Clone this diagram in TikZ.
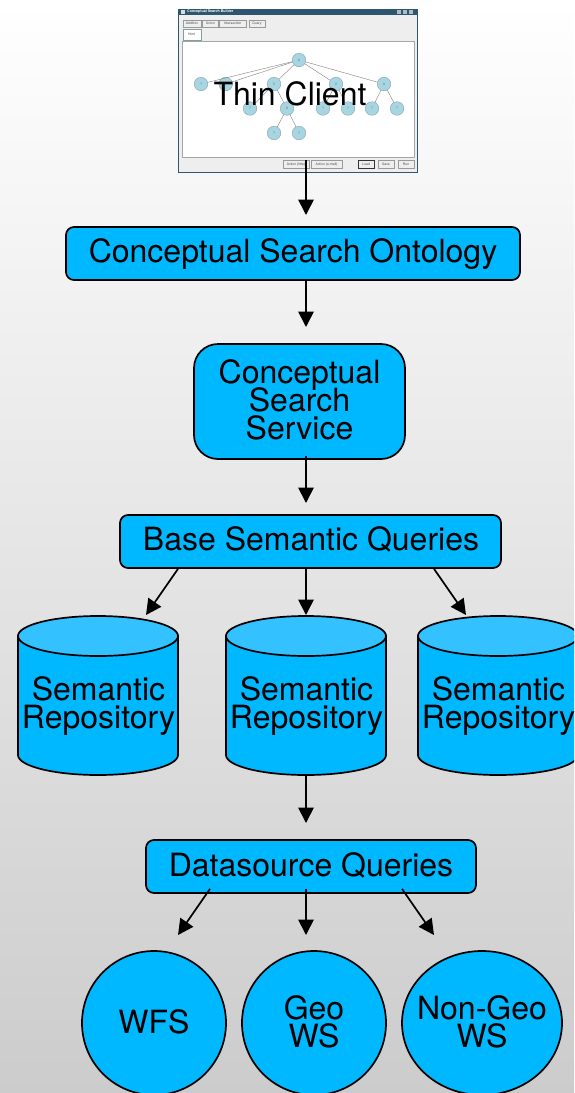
\documentclass[tikz,border=0pt]{standalone}
\usepackage{fontspec}
\setmainfont{TeX Gyre Heros}
\usetikzlibrary{arrows.meta,shapes.geometric,calc}
\definecolor{boxblue}{HTML}{00B8FF}
\definecolor{topblue}{HTML}{33C1FF}
\definecolor{wintitle}{HTML}{2F566F}
\definecolor{winbody}{HTML}{EEEEEE}
\definecolor{treeblue}{HTML}{A8D5E2}
\normallineskiplimit=-100pt
\lineskiplimit=-100pt
\tikzset{
  lbl/.style={font=\fontsize{32}{28}\selectfont,align=center,text=black,inner sep=0pt},
  roundbox/.style={draw=black,line width=1.7pt,fill=boxblue,rounded corners=8pt,minimum height=53pt,inner sep=0pt},
  circ/.style={ellipse,draw=black,line width=1.7pt,fill=boxblue,inner sep=0pt,minimum height=144pt},
  arr/.style={draw=black,line width=1.7pt,-{Triangle[length=15.5pt,width=15.5pt]},shorten >=0pt},
  treenode/.style={circle,draw=treeblue!70!black,line width=.3pt,fill=treeblue,minimum size=13.6pt,inner sep=0pt,text=black!55,font=\fontsize{3.4}{4}\selectfont},
  treeedge/.style={draw=black!55,line width=.35pt},
  winbtn/.style={draw=black!40,line width=.35pt,fill=winbody,inner sep=0pt,text=black!70,font=\fontsize{3.4}{4}\selectfont},
}
\newcommand\repocyl[2]{%
  \begin{scope}[shift={(#2,636)}]
    \filldraw[draw=black,line width=1.7pt,fill=boxblue] (0,0) -- (0,119)
      arc[start angle=180,end angle=360,x radius=80pt,y radius=20pt] -- (160,0) -- cycle;
    \filldraw[draw=black,line width=1.7pt,fill=topblue] (80,0) ellipse [x radius=80pt,y radius=20pt];
    \node[lbl,anchor=base] (#1) at (80.5,92) {Semantic\\Repository};
  \end{scope}}
\begin{document}
\begin{tikzpicture}[x=1pt,y=-1pt]
\path[use as bounding box,clip] (0,0) rectangle (574,1093);
\shade[top color=white,bottom color=black!20] (0,0) rectangle (574,1093);

% ---- screenshot window
\node[draw=wintitle,line width=.7pt,fill=winbody,minimum width=239pt,minimum height=163pt,inner sep=0pt] (client) at (298,90.5) {};
\fill[wintitle] (178,8.5) rectangle (418,15);
\node[anchor=west,text=white,inner sep=0pt,font=\bfseries\fontsize{3.6}{4}\selectfont] (wintext) at (187,11.8) {Conceptual Search Builder};
\fill[white!80!wintitle] (181,10) rectangle (185,14);
\fill[white!60!wintitle] (397,10) rectangle (401,14);
\fill[white!60!wintitle] (403,10) rectangle (407,14);
\fill[white!60!wintitle] (409,10) rectangle (413,14);
\node[winbtn,minimum width=18.6pt,minimum height=7.3pt] (b1) at (192,23.7) {Addition};
\node[winbtn,minimum width=16pt,minimum height=7.3pt] (b2) at (210.3,23.7) {Union};
\node[winbtn,minimum width=26.7pt,minimum height=7.3pt] (b3) at (232.6,23.7) {Intersection};
\node[winbtn,minimum width=15.7pt,minimum height=7.3pt] (b4) at (256.9,23.7) {Query};
\node[winbtn,fill=white,draw=teal!50!black!50,minimum width=18pt,minimum height=10.7pt] (b5) at (191.7,34.7) {Html};
\node[draw=black!35,line width=.4pt,fill=white,minimum width=231.3pt,minimum height=115.3pt,inner sep=0pt] (canvas) at (298.3,99.3) {};
\node[winbtn,minimum width=25.4pt,minimum height=8pt] (b6) at (296,164.3) {Action (http)};
\node[winbtn,minimum width=31pt,minimum height=8pt] (b7) at (326.5,164.3) {Action (e-mail)};
\node[winbtn,draw=black!80,minimum width=15.7pt,minimum height=8pt] (b8) at (366.2,164.3) {Load};
\node[winbtn,minimum width=16pt,minimum height=8pt] (b9) at (386,164.3) {Save};
\node[winbtn,minimum width=16pt,minimum height=8pt] (b10) at (406,164.3) {Run};

% tree
\foreach \n/\x/\y/\t in {r/299/60/A,n1/201/84/?,n2/225.7/84/?,n3/274/84/V,n4/336/84/V,n5/384/84/A,
  m1/250/108.5/?,m2/287/108.5/A,m3/323/108.5/?,m4/348/108.5/?,m5/372/108.5/?,m6/397/108.5/?,l1/274/133/?,l2/299/133/?}
  \node[treenode] (\n) at (\x,\y) {\t};
\foreach \a/\b in {r/n1,r/n2,r/n3,r/n4,r/n5,n3/m1,n3/m2,n4/m3,n4/m4,n5/m5,n5/m6,m2/l1,m2/l2}
  \draw[treeedge] (\a) -- (\b);
\node[lbl,anchor=base] (thin) at (290,105) {Thin Client};

% ---- boxes
\node[roundbox,minimum width=454pt] (onto) at (293,253.5) {};
\node[lbl,anchor=base] (ontot) at (293,262) {Conceptual Search Ontology};
\node[roundbox,rounded corners=24pt,minimum width=211pt,minimum height=115pt] (svc) at (299.5,401.5) {};
\node[lbl,anchor=base] (svct) at (299.5,439.5) {Conceptual\\Search\\Service};
\node[roundbox,minimum width=381pt] (base) at (310.5,541.5) {};
\node[lbl,anchor=base] (baset) at (311,550) {Base Semantic Queries};
\repocyl{repoa}{18}
\repocyl{repob}{226}
\repocyl{repoc}{418}
\node[roundbox,minimum width=330pt] (ds) at (311,866.5) {};
\node[lbl,anchor=base] (dst) at (311,876) {Datasource Queries};
\node[circ,minimum width=144pt] (wfs) at (154,1023) {};
\node[lbl,anchor=base] (wfst) at (154,1033) {WFS};
\node[circ,minimum width=144pt] (geo) at (314,1023) {};
\node[lbl,anchor=base] (geot) at (314,1047) {Geo\\WS};
\node[circ,minimum width=160pt] (nongeo) at (482,1023) {};
\node[lbl,anchor=base] (nongeot) at (482,1047) {Non-Geo\\WS};

% ---- arrow tips (free ends)
\coordinate (t1) at (306,215);
\coordinate (t2) at (306,327);
\coordinate (t3) at (306,503);
\coordinate (t4) at (146,615);
\coordinate (t5) at (306,615);
\coordinate (t6) at (466,615);
\coordinate (t7) at (306,823);
\coordinate (t8) at (178,935);
\coordinate (t9) at (306,935);
\coordinate (t10) at (434,935);

\draw[arr] (t1 |- b6.north) -- (t1);
\draw[arr] (t2 |- onto.south) -- (t2);
\draw[arr] ([yshift=4pt]t3 |- svc.south) -- (t3);
\draw[arr] ([xshift=-132.5pt]base.south) -- (t4);
\draw[arr] (t5 |- base.south) -- (t5);
\draw[arr] ([xshift=123.5pt]base.south) -- (t6);
\draw[arr] (t7 |- 0,775) -- (t7);
\draw[arr] ([xshift=-101pt,yshift=5pt]ds.south) -- (t8);
\draw[arr] ([yshift=5pt]t9 |- ds.south) -- (t9);
\draw[arr] ([xshift=91pt,yshift=5pt]ds.south) -- (t10);
\end{tikzpicture}
\end{document}
